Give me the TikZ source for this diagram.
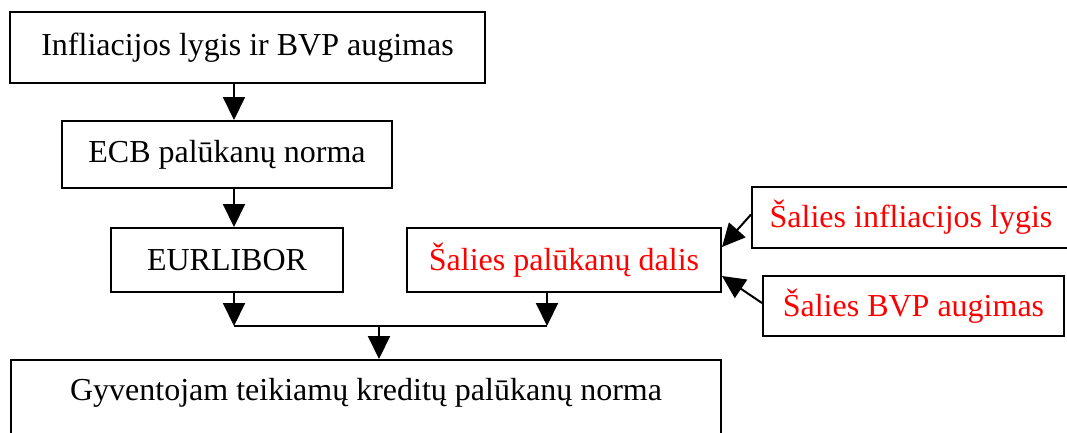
\documentclass[tikz,border=0pt]{standalone}
\usepackage{fontspec}
\setmainfont{Liberation Serif}
\usetikzlibrary{arrows.meta,calc}
\definecolor{txtred}{RGB}{255,0,0}
\begin{document}
\begin{tikzpicture}[x=1pt,y=-1pt,
  box/.style={draw=black,line width=2pt,rectangle,inner sep=0pt,
    font=\fontsize{32}{38}\selectfont},
  redbox/.style={box,text=txtred},
  conn/.style={line width=2pt},
  arr/.style={conn,-{Triangle[length=23pt,width=22pt]}}]
\useasboundingbox (0,0) rectangle (1067,432);

% boxes
\node[box,minimum width=475pt,minimum height=71pt] (infl) at (247.5,47.5) {Infliacijos lygis ir BVP augimas};
\node[box,minimum width=330pt,minimum height=67pt] (ecb) at (227,154.5) {ECB palūkanų norma};
\node[box,minimum width=232pt,minimum height=64pt] (eur) at (227,260) {EURLIBOR};
\node[redbox,minimum width=314pt,minimum height=64pt] (dalis) at (564,260) {Šalies palūkanų dalis};
\node[redbox,minimum width=318pt,minimum height=61pt] (sinfl) at (911,217.5) {Šalies infliacijos lygis};
\node[redbox,minimum width=301pt,minimum height=60pt] (sbvp) at (913.5,306) {Šalies BVP augimas};
\node[box,minimum width=710pt,text height=40pt,text depth=60pt] (kred) at (366,410) {Gyventojam teikiamų kreditų palūkanų norma};

% connector columns and the joining line
\coordinate (colA) at (234,0);
\coordinate (colB) at (547,0);
\coordinate (colC) at (379,0);
\coordinate (joinA) at (234,326);
\coordinate (joinB) at (547,326);
\coordinate (joinC) at (379,326);

\draw[arr] (infl.south -| colA) -- (ecb.north -| colA);
\draw[arr] (ecb.south -| colA) -- (eur.north -| colA);
\draw[arr] (eur.south -| colA) -- (joinA);
\draw[arr] (dalis.south -| colB) -- (joinB);
\draw[conn] (joinA) -- (joinB);
\draw[arr] (joinC) -- (kred.north -| colC);
\draw[arr] ($(sinfl.west)+(0,-3)$) -- ($(dalis.east)+(0,-13)$);
\draw[arr] ($(sbvp.west)+(0,-3)$) -- ($(dalis.east)+(0,16)$);
\end{tikzpicture}
\end{document}
